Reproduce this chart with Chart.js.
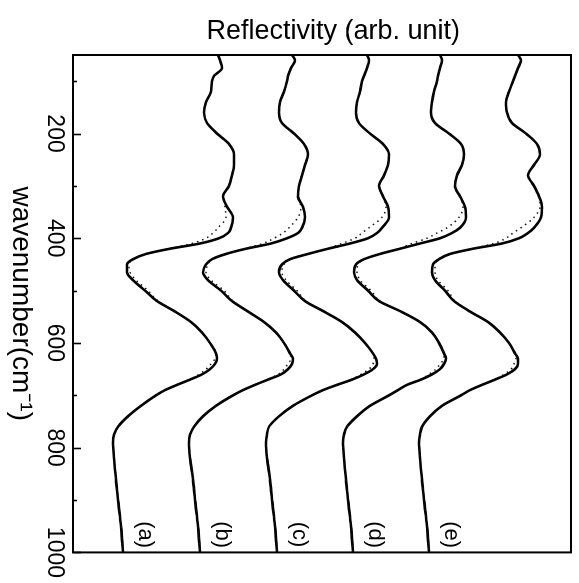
<!DOCTYPE html>
<html>
<head>
<meta charset="utf-8">
<script src="https://cdn.jsdelivr.net/npm/chart.js@4"></script>
<style>
  html, body { margin: 0; padding: 0; background: #fff; }
  #frame { position: relative; width: 579px; height: 583px; overflow: hidden; background: #fff; }
  /* the spectra are plotted along a horizontal wavenumber axis, then the canvas is turned a quarter clockwise */
  #chart { position: absolute; left: 0; top: 0; transform-origin: 0 0; transform: translate(579px, 0) rotate(90deg); }
</style>
</head>
<body>
<div id="frame"><canvas id="chart" width="583" height="579"></canvas></div>
<script>
// wavenumber grid (cm^-1) shared by all spectra
const wavenumbers = [50, 60, 75, 90, 100, 120, 140, 160, 180, 200, 220, 240, 260, 280, 300, 320, 340, 360, 380, 390,
  400, 410, 420, 430, 440, 450, 465, 480, 500, 520, 540, 560, 580, 600, 620, 630, 640, 650, 660, 670,
  680, 690, 700, 720, 740, 760, 775, 790, 820, 860, 900, 950, 1000];

const seriesNames = ['(a)', '(b)', '(c)', '(d)', '(e)'];

// measured reflectivity (solid), offset per sample, arb. unit
const measuredA = [1.45,1.47,1.49,1.41,1.39,1.38,1.33,1.31,1.34,1.44,1.56,1.61,1.61,1.59,1.56,1.50,1.54,1.60,1.58,1.55,1.46,1.27,0.97,0.73,0.60,0.54,0.54,0.60,0.72,0.84,1.02,1.18,1.29,1.37,1.43,1.44,1.42,1.37,1.29,1.17,1.04,0.92,0.83,0.68,0.55,0.45,0.41,0.40,0.41,0.43,0.45,0.48,0.50];
const measuredB = [2.19,2.22,2.18,2.15,2.14,2.11,2.07,2.06,2.09,2.21,2.31,2.35,2.32,2.29,2.26,2.25,2.30,2.32,2.29,2.25,2.14,1.98,1.73,1.53,1.39,1.33,1.30,1.35,1.48,1.59,1.75,1.91,2.03,2.11,2.17,2.20,2.19,2.15,2.08,1.95,1.82,1.70,1.60,1.43,1.30,1.21,1.17,1.16,1.17,1.20,1.22,1.25,1.27];
const measuredC = [2.94,2.96,2.94,2.91,2.89,2.87,2.84,2.83,2.86,2.97,3.10,3.16,3.15,3.11,3.06,3.10,3.15,3.16,3.09,3.04,2.95,2.77,2.55,2.35,2.17,2.09,2.06,2.10,2.21,2.32,2.51,2.69,2.82,2.92,3.00,3.03,3.04,3.00,2.91,2.79,2.64,2.50,2.39,2.20,2.06,1.96,1.94,1.93,1.94,1.97,1.99,2.02,2.04];
const measuredD = [3.67,3.69,3.67,3.65,3.64,3.61,3.59,3.58,3.62,3.76,3.88,3.91,3.89,3.84,3.82,3.87,3.92,3.93,3.87,3.79,3.67,3.47,3.27,3.07,2.91,2.83,2.81,2.84,2.95,3.06,3.28,3.47,3.59,3.66,3.71,3.73,3.71,3.67,3.59,3.48,3.34,3.25,3.16,2.97,2.84,2.74,2.71,2.70,2.71,2.73,2.75,2.78,2.80];
const measuredE = [4.45,4.48,4.45,4.42,4.40,4.36,4.33,4.34,4.39,4.53,4.64,4.67,4.61,4.55,4.61,4.66,4.69,4.68,4.61,4.55,4.46,4.29,4.00,3.77,3.66,3.60,3.59,3.62,3.72,3.81,3.97,4.15,4.27,4.36,4.42,4.45,4.45,4.42,4.34,4.22,4.09,3.97,3.88,3.69,3.57,3.49,3.47,3.46,3.47,3.49,3.51,3.54,3.56];

// calculated reflectivity (dotted)
const calculatedA = [1.45,1.47,1.49,1.41,1.39,1.38,1.33,1.31,1.34,1.44,1.56,1.61,1.61,1.59,1.56,1.50,1.52,1.53,1.45,1.40,1.33,1.19,0.96,0.73,0.60,0.56,0.57,0.63,0.75,0.85,1.02,1.18,1.29,1.37,1.43,1.42,1.38,1.33,1.26,1.16,1.04,0.92,0.83,0.68,0.55,0.45,0.41,0.40,0.41,0.43,0.45,0.48,0.50];
const calculatedB = [2.19,2.22,2.18,2.15,2.14,2.11,2.07,2.06,2.09,2.21,2.31,2.35,2.32,2.29,2.26,2.25,2.28,2.25,2.16,2.10,2.01,1.90,1.72,1.53,1.39,1.35,1.33,1.38,1.51,1.60,1.75,1.91,2.03,2.11,2.17,2.18,2.15,2.11,2.05,1.94,1.82,1.70,1.60,1.43,1.30,1.21,1.17,1.16,1.17,1.20,1.22,1.25,1.27];
const calculatedC = [2.94,2.96,2.94,2.91,2.89,2.87,2.84,2.83,2.86,2.97,3.10,3.16,3.15,3.11,3.06,3.10,3.13,3.09,2.96,2.89,2.82,2.69,2.54,2.35,2.17,2.11,2.09,2.13,2.24,2.33,2.51,2.69,2.82,2.92,3.00,3.01,3.00,2.96,2.88,2.78,2.64,2.50,2.39,2.20,2.06,1.96,1.94,1.93,1.94,1.97,1.99,2.02,2.04];
const calculatedD = [3.67,3.69,3.67,3.65,3.64,3.61,3.59,3.58,3.62,3.76,3.88,3.91,3.89,3.84,3.82,3.87,3.90,3.86,3.74,3.64,3.54,3.39,3.26,3.07,2.91,2.85,2.84,2.87,2.98,3.07,3.28,3.47,3.59,3.66,3.71,3.71,3.67,3.63,3.56,3.47,3.34,3.25,3.16,2.97,2.84,2.74,2.71,2.70,2.71,2.73,2.75,2.78,2.80];
const calculatedE = [4.45,4.48,4.45,4.42,4.40,4.36,4.33,4.34,4.39,4.53,4.64,4.67,4.61,4.55,4.61,4.66,4.67,4.61,4.48,4.40,4.33,4.21,3.99,3.77,3.66,3.62,3.62,3.65,3.75,3.82,3.97,4.15,4.27,4.36,4.42,4.43,4.41,4.38,4.31,4.21,4.09,3.97,3.88,3.69,3.57,3.49,3.47,3.46,3.47,3.49,3.51,3.54,3.56];

// wavenumber axis ticks
const tickValues = [100, 200, 300, 400, 500, 600, 700, 800, 900, 1000];
const tickLabels = ['', '200', '', '400', '', '600', '', '800', '', '1000'];

const measured = [measuredA, measuredB, measuredC, measuredD, measuredE];
const calculated = [calculatedA, calculatedB, calculatedC, calculatedD, calculatedE];

const FONT = '"Liberation Sans", Arial, Helvetica, sans-serif';
const toPoints = arr => wavenumbers.map((w, k) => ({ x: w, y: arr[k] }));

const datasets = [];
calculated.forEach((arr, i) => datasets.push({
  label: seriesNames[i] + ' calc', data: toPoints(arr),
  borderColor: '#111', borderWidth: 1.5, borderDash: [1.5, 4], pointRadius: 0,
  cubicInterpolationMode: 'monotone', fill: false
}));
measured.forEach((arr, i) => datasets.push({
  label: seriesNames[i], data: toPoints(arr),
  borderColor: '#000', borderWidth: 2.6, pointRadius: 0,
  cubicInterpolationMode: 'monotone', fill: false
}));

// frame, inward tick marks and sample tags
const decorations = {
  id: 'decorations',
  afterDatasetsDraw(chart) {
    const { ctx, chartArea: a, scales } = chart;
    const xs = scales.x, ys = scales.y;
    ctx.save();
    ctx.strokeStyle = '#000';
    ctx.lineWidth = 1.6;
    xs.ticks.forEach((t, i) => {
      const px = Math.round(xs.getPixelForValue(t.value)) + 0.5;
      const len = tickLabels[i] ? 8 : 4;
      ctx.beginPath();
      ctx.moveTo(px, a.bottom);
      ctx.lineTo(px, a.bottom - len);
      ctx.stroke();
    });
    ctx.lineWidth = 2;
    ctx.strokeRect(a.left, a.top, a.right - a.left, a.bottom - a.top);
    ctx.fillStyle = '#000';
    ctx.font = '22px ' + FONT;
    ctx.textAlign = 'center';
    ctx.textBaseline = 'middle';
    measured.forEach((arr, i) => {
      const px = xs.getPixelForValue(966);
      const py = ys.getPixelForValue(arr[arr.length - 1] + 0.22);
      ctx.fillText(seriesNames[i], px, py);
    });
    ctx.restore();
  }
};

new Chart(document.getElementById('chart'), {
  type: 'line',
  data: { datasets },
  options: {
    responsive: false,
    animation: false,
    devicePixelRatio: 1,
    layout: { padding: { left: 0, top: 8, right: 30, bottom: 0 } },
    plugins: { legend: { display: false }, tooltip: { enabled: false } },
    scales: {
      x: {
        type: 'linear', position: 'bottom', min: 50, max: 1000,
        afterBuildTicks: s => { s.ticks = tickValues.map(v => ({ value: v })); },
        afterFit: s => { s.height = 73; },
        grid: { display: false, drawTicks: false },
        border: { display: false },
        ticks: {
          autoSkip: false, maxRotation: 0, minRotation: 0, padding: 5,
          color: '#000', font: { family: FONT, size: 23 },
          callback: (v, i) => tickLabels[i]
        },
        title: {
          display: true, text: 'wavenumber(cm\u207B\u00B9)', color: '#000',
          font: { family: FONT, size: 28 }, padding: { top: 0, bottom: 4 }
        }
      },
      y: {
        type: 'linear', position: 'left', min: 0, max: 4.98,
        afterFit: s => { s.width = 55; },
        grid: { display: false, drawTicks: false },
        border: { display: false },
        ticks: { display: false },
        title: {
          display: true, text: '   Reflectivity (arb. unit)', color: '#000',
          font: { family: FONT, size: 27 }, padding: { top: 15, bottom: 0 }
        }
      }
    }
  },
  plugins: [decorations]
});
</script>
</body>
</html>
